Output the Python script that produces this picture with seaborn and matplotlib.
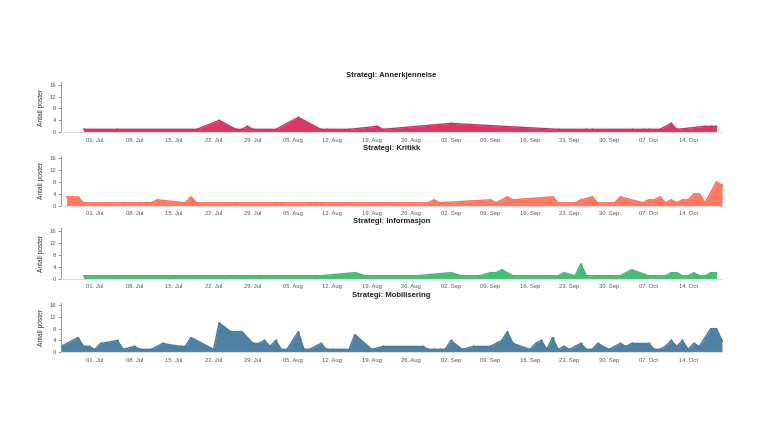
import matplotlib
matplotlib.use("Agg")
import matplotlib.pyplot as plt
import matplotlib.dates as mdates
import seaborn as sns
import pandas as pd

# data (posts per day, days without posts are left out)
anner_dates = ["2018-06-29", "2018-07-05", "2018-07-19", "2018-07-23", "2018-07-26", "2018-07-27",
               "2018-07-28", "2018-07-29", "2018-08-02", "2018-08-06", "2018-08-10", "2018-08-11",
               "2018-08-15", "2018-08-20", "2018-08-21", "2018-09-02", "2018-09-21", "2018-09-26",
               "2018-09-27", "2018-10-04", "2018-10-06", "2018-10-07", "2018-10-09", "2018-10-11",
               "2018-10-12", "2018-10-17", "2018-10-18", "2018-10-19"]
anner_vals = [1, 1, 1, 4, 1, 1, 2, 1, 1, 5, 1, 1, 1, 2, 1, 3, 1, 1, 1, 1, 1, 1, 1, 3, 1, 2, 2, 2]

kritikk_dates = ["2018-06-26", "2018-06-28", "2018-06-29", "2018-07-04", "2018-07-06", "2018-07-07",
                 "2018-07-08", "2018-07-09", "2018-07-10", "2018-07-11", "2018-07-12", "2018-07-17",
                 "2018-07-18", "2018-07-19", "2018-07-26", "2018-08-02", "2018-08-03", "2018-08-08",
                 "2018-08-09", "2018-08-10", "2018-08-15", "2018-08-21", "2018-08-22", "2018-08-29",
                 "2018-08-30", "2018-08-31", "2018-09-09", "2018-09-10", "2018-09-12", "2018-09-13",
                 "2018-09-20", "2018-09-21", "2018-09-24", "2018-09-25", "2018-09-27", "2018-09-28",
                 "2018-09-30", "2018-10-01", "2018-10-02", "2018-10-06", "2018-10-07", "2018-10-08",
                 "2018-10-09", "2018-10-10", "2018-10-11", "2018-10-12", "2018-10-13", "2018-10-14",
                 "2018-10-15", "2018-10-16", "2018-10-17", "2018-10-19", "2018-10-20"]
kritikk_vals = [3, 3, 1, 1, 1, 1, 1, 1, 1, 1, 2, 1, 3, 1, 1, 1, 1, 1, 1, 1, 1, 1, 1, 1,
                2, 1, 2, 1, 3, 2, 3, 1, 1, 2, 3, 1, 1, 1, 3, 1, 2, 2, 3, 1, 2, 1, 2, 2,
                4, 4, 1, 8, 7]

info_dates = ["2018-06-29", "2018-07-05", "2018-07-15", "2018-07-25", "2018-07-28", "2018-07-30",
              "2018-08-06", "2018-08-09", "2018-08-10", "2018-08-16", "2018-08-18", "2018-08-27",
              "2018-09-02", "2018-09-04", "2018-09-07", "2018-09-09", "2018-09-10", "2018-09-11",
              "2018-09-13", "2018-09-21", "2018-09-22", "2018-09-24", "2018-09-25", "2018-09-26",
              "2018-09-28", "2018-09-30", "2018-10-02", "2018-10-04", "2018-10-07", "2018-10-08",
              "2018-10-10", "2018-10-11", "2018-10-12", "2018-10-13", "2018-10-14", "2018-10-15",
              "2018-10-16", "2018-10-17", "2018-10-18", "2018-10-19"]
info_vals = [1, 1, 1, 1, 1, 1, 1, 1, 1, 2, 1, 1, 2, 1, 1, 2, 2, 3, 1, 1, 2, 1, 5, 1,
             1, 1, 1, 3, 1, 1, 1, 2, 2, 1, 1, 2, 1, 1, 2, 2]

mobil_dates = ["2018-06-25", "2018-06-28", "2018-06-29", "2018-06-30", "2018-07-01", "2018-07-02",
               "2018-07-05", "2018-07-06", "2018-07-08", "2018-07-09", "2018-07-11", "2018-07-13",
               "2018-07-16", "2018-07-17", "2018-07-18", "2018-07-22", "2018-07-23", "2018-07-25",
               "2018-07-27", "2018-07-29", "2018-07-30", "2018-07-31", "2018-08-01", "2018-08-02",
               "2018-08-03", "2018-08-04", "2018-08-06", "2018-08-07", "2018-08-08", "2018-08-10",
               "2018-08-11", "2018-08-12", "2018-08-15", "2018-08-16", "2018-08-19", "2018-08-21",
               "2018-08-28", "2018-08-29", "2018-08-30", "2018-08-31", "2018-09-01", "2018-09-02",
               "2018-09-04", "2018-09-06", "2018-09-09", "2018-09-10", "2018-09-11", "2018-09-12",
               "2018-09-13", "2018-09-16", "2018-09-17", "2018-09-18", "2018-09-19", "2018-09-20",
               "2018-09-21", "2018-09-22", "2018-09-23", "2018-09-25", "2018-09-26", "2018-09-27",
               "2018-09-28", "2018-09-30", "2018-10-02", "2018-10-03", "2018-10-04", "2018-10-07",
               "2018-10-08", "2018-10-09", "2018-10-10", "2018-10-11", "2018-10-12", "2018-10-13",
               "2018-10-14", "2018-10-15", "2018-10-16", "2018-10-18", "2018-10-19", "2018-10-20"]
mobil_vals = [2, 5, 2, 2, 1, 3, 4, 1, 2, 1, 1, 3, 2, 2, 5, 1, 10, 7, 7, 3, 3, 4, 2, 4,
              1, 1, 7, 1, 1, 3, 1, 1, 1, 6, 1, 2, 2, 1, 1, 1, 1, 4, 1, 2, 2, 3, 4, 7,
              3, 1, 3, 4, 1, 5, 1, 2, 1, 3, 1, 1, 3, 1, 3, 2, 3, 3, 1, 1, 2, 4, 2, 4,
              1, 3, 2, 8, 8, 4]

strategies = ["Annerkjennelse", "Kritikk", "Informasjon", "Mobilisering"]
colors = ["#D92E5D", "#FF7256", "#3DBB6E", "#457B9D"]
series = [(anner_dates, anner_vals), (kritikk_dates, kritikk_vals),
          (info_dates, info_vals), (mobil_dates, mobil_vals)]

sns.set_style("white")
plt.rcParams['font.family'] = ['Liberation Sans', 'DejaVu Sans']

fig = plt.figure(figsize=(7.68, 4.32), dpi=100)

panel_px = [(82.3, 132.3), (155.9, 205.7), (228.3, 278.7), (302.6, 352.3)]
left, right = 61 / 768, 722 / 768
xmin, xmax = pd.Timestamp("2018-06-25"), pd.Timestamp("2018-10-20")

for (dates, vals), name, col, (top, bot) in zip(series, strategies, colors, panel_px):
  ax = fig.add_axes([left, 1 - bot / 432, right - left, (bot - top) / 432])
  df = pd.DataFrame({"dato": pd.to_datetime(dates), "antall": vals})
  ax.fill_between(df["dato"], 0, df["antall"], color=col, alpha=0.95, linewidth=0)
  sns.lineplot(data=df, x="dato", y="antall", ax=ax, color=col, linewidth=1,
               marker="o", markersize=1.6, markeredgewidth=0)

  ax.set_xlim(xmin, xmax)
  ax.set_ylim(0, 16.8)
  ax.set_yticks([0, 4, 8, 12, 16])
  ax.xaxis.set_major_locator(mdates.WeekdayLocator(byweekday=mdates.SU))
  ax.xaxis.set_major_formatter(mdates.DateFormatter("%d. %b"))
  ax.tick_params(axis="x", length=0, labelsize=4.2, labelcolor="#555555", pad=4)
  ax.tick_params(axis="y", length=2, width=0.5, color="#666666", labelsize=4.2,
                 labelcolor="#555555", pad=1.5, left=True)
  for s in ["top", "right"]:
    ax.spines[s].set_visible(False)
  ax.spines["left"].set_color("#888888")
  ax.spines["left"].set_linewidth(0.6)
  ax.spines["bottom"].set_color("#dddddd")
  ax.spines["bottom"].set_linewidth(0.8)

  ax.set_xlabel("")
  ax.set_ylabel("Antall poster", fontsize=4.8, color="#333333", labelpad=3)
  ax.set_title("Strategi: " + name, fontsize=5.5, fontweight="bold", color="#222222", pad=4)

fig.savefig("out.png", dpi=100)
